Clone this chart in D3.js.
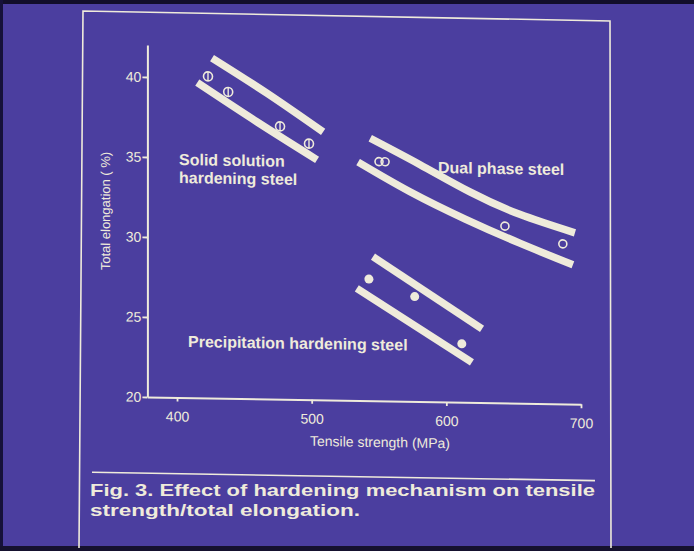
<!DOCTYPE html>
<html>
<head>
<meta charset="utf-8">
<script src="https://cdn.jsdelivr.net/npm/d3@7"></script>
<style>
  body { margin: 0; background: #4b3e9f; }
  svg { display: block; }
  text { font-family: "Liberation Sans", Arial, sans-serif; fill: #efebdb; }
</style>
</head>
<body>
<svg id="chart"></svg>
<script>
// Tick values
const xTicks = [400, 500, 600, 700];
const yTicks = [20, 25, 30, 35, 40];

// Band edges (tensile strength MPa, total elongation %) and measured points
const solidUpper = [[426, 41.25], [467, 39.1], [508.5, 36.75]];
const solidLower = [[415, 39.7], [459.5, 37.3], [504, 35.0]];
const solidPoints = [[423, 40.1], [438, 39.15], [476.5, 37.05], [498, 36.0]];

const dualUpper = [[543.5, 36.4], [580.5, 34.8], [617.5, 33.15], [654.5, 31.8], [695.5, 30.7]];
const dualLower = [[534.5, 34.9], [573, 33.1], [614, 31.45], [654.5, 30.0], [694, 28.7]];
const dualPoints = [[550, 34.95], [554.5, 34.95], [643.5, 31.05], [686.5, 30.0]];

const precipUpper = [[545.5, 29.0], [626.5, 24.6]];
const precipLower = [[533.5, 27.0], [619, 22.5]];
const precipPoints = [[542.5, 27.6], [576.5, 26.55], [611.5, 23.65]];

const ink = "#efebdb";
const W = 694, H = 551;

const svg = d3.select("#chart")
    .attr("width", W)
    .attr("height", H);

// Dark slide edges
svg.append("rect").attr("x", 0).attr("y", 0).attr("width", W).attr("height", 4).attr("fill", "#120e2a");
svg.append("rect").attr("x", 0).attr("y", 0).attr("width", 3).attr("height", H).attr("fill", "#16113a");
svg.append("rect").attr("x", 0).attr("y", 546).attr("width", W).attr("height", 5).attr("fill", "#15112e");

// Frame of the slide
svg.append("path")
    .attr("d", "M79,548 L83,11 L610,21 L611,548")
    .attr("fill", "none")
    .attr("stroke", ink)
    .attr("stroke-width", 1.6);

// The photo is slightly sheared
const g = svg.append("g")
    .attr("transform", "translate(347,0) skewY(0.95) translate(-347,0)");

// Scales
const x = d3.scaleLinear().domain([378, 700]).range([147.4, 581]);
const y = d3.scaleLinear().domain([20, 42]).range([400.3, 48.3]);

// Axes
const xAxis = g.append("g")
    .attr("transform", `translate(0,${y(20)})`)
    .call(d3.axisBottom(x).tickValues(xTicks).tickSize(4).tickSizeOuter(0).tickPadding(10));

const yAxis = g.append("g")
    .attr("transform", `translate(${x(378)},0)`)
    .call(d3.axisLeft(y).tickValues(yTicks).tickSize(5).tickSizeOuter(0).tickPadding(1));

[xAxis, yAxis].forEach(a => {
    a.select(".domain").attr("stroke", ink).attr("stroke-width", 2);
    a.selectAll(".tick line").attr("stroke", ink).attr("stroke-width", 1.8);
    a.selectAll(".tick text")
        .attr("fill", ink)
        .style("font-size", "14px")
        .style("font-family", "'Liberation Sans', Arial, sans-serif");
});

// Axis titles
g.append("text")
    .attr("x", 380)
    .attr("y", 446.5)
    .attr("text-anchor", "middle")
    .style("font-size", "14px")
    .text("Tensile strength (MPa)");

g.append("text")
    .attr("transform", "translate(109.5,215) rotate(-90)")
    .attr("text-anchor", "middle")
    .style("font-size", "13px")
    .text("Total elongation ( %)");

// Bands
const line = d3.line()
    .x(d => x(d[0]))
    .y(d => y(d[1]))
    .curve(d3.curveNatural);

[solidUpper, solidLower, dualUpper, dualLower, precipUpper, precipLower].forEach(b => {
    g.append("path")
        .attr("d", line(b))
        .attr("fill", "none")
        .attr("stroke", ink)
        .attr("stroke-width", 7.5)
        .attr("stroke-linecap", "butt");
});

// Solid solution points: circle with a bar
const sp = g.selectAll(".solid")
    .data(solidPoints)
    .enter()
    .append("g")
    .attr("class", "solid")
    .attr("transform", d => `translate(${x(d[0])},${y(d[1])})`);
sp.append("circle").attr("r", 4.5).attr("fill", "none").attr("stroke", ink).attr("stroke-width", 1.6);
sp.append("line").attr("y1", -4.5).attr("y2", 4.5).attr("stroke", ink).attr("stroke-width", 1.4);

// Dual phase points: open circles
g.selectAll(".dual")
    .data(dualPoints)
    .enter()
    .append("circle")
    .attr("class", "dual")
    .attr("cx", d => x(d[0]))
    .attr("cy", d => y(d[1]))
    .attr("r", 4)
    .attr("fill", "none")
    .attr("stroke", ink)
    .attr("stroke-width", 1.6);

// Precipitation points: filled
g.selectAll(".precip")
    .data(precipPoints)
    .enter()
    .append("circle")
    .attr("class", "precip")
    .attr("cx", d => x(d[0]))
    .attr("cy", d => y(d[1]))
    .attr("r", 4.5)
    .attr("fill", ink);

// Band labels
const labels = [
    { t: "Solid solution", x: 179, y: 167.8 },
    { t: "hardening steel", x: 179, y: 185.8 },
    { t: "Dual phase steel", x: 438, y: 171.5 },
    { t: "Precipitation hardening steel", x: 188, y: 349.6 }
];
g.selectAll(".lbl")
    .data(labels)
    .enter()
    .append("text")
    .attr("class", "lbl")
    .attr("x", d => d.x)
    .attr("y", d => d.y)
    .style("font-size", "16px")
    .style("font-weight", "bold")
    .text(d => d.t);

// Caption
g.append("line")
    .attr("x1", 92).attr("x2", 595)
    .attr("y1", 476.5).attr("y2", 476.5)
    .attr("stroke", ink)
    .attr("stroke-width", 1.6);

svg.append("text")
    .attr("x", 90)
    .attr("y", 495.5)
    .attr("textLength", 505)
    .attr("lengthAdjust", "spacingAndGlyphs")
    .style("font-size", "16.5px")
    .style("font-weight", "bold")
    .text("Fig. 3. Effect of hardening mechanism on tensile");

svg.append("text")
    .attr("x", 90)
    .attr("y", 515.5)
    .attr("textLength", 270)
    .attr("lengthAdjust", "spacingAndGlyphs")
    .style("font-size", "16.5px")
    .style("font-weight", "bold")
    .text("strength/total elongation.");
</script>
</body>
</html>
